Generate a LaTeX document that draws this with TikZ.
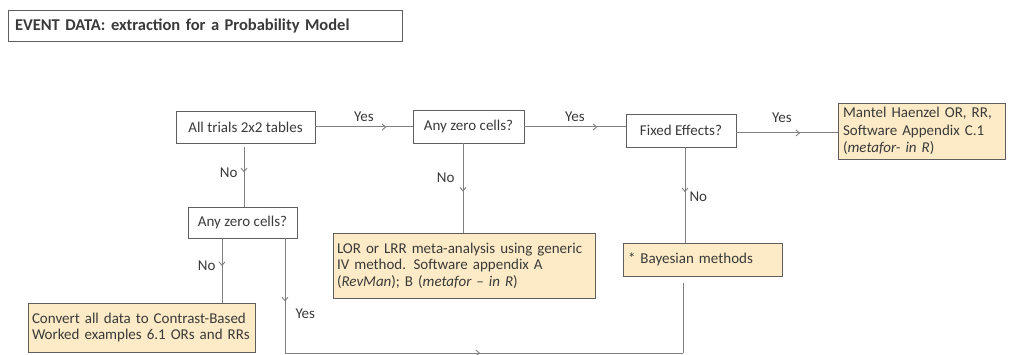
\documentclass[tikz,border=0pt]{standalone}
\usepackage{fontspec}
\setmainfont{Carlito}
\usetikzlibrary{arrows.meta, positioning, decorations.markings}

\definecolor{boxfill}{HTML}{FCEBC6}
\definecolor{lineclr}{HTML}{808080}
\definecolor{edgeclr}{HTML}{5E5E5E}
\definecolor{txtclr}{HTML}{3A3A3A}

\tikzset{
  qbox/.style={draw=edgeclr, fill=white, text=txtclr, inner sep=0pt, line width=0.9pt},
  rbox/.style={draw=edgeclr, fill=boxfill, text=txtclr, inner sep=0pt, line width=0.9pt},
  flow/.style={draw=lineclr, line width=1pt},
  tip/.style={postaction={decorate}, decoration={markings,
    mark=at position #1 with {\arrow[lineclr]{Straight Barb[length=3.5pt,width=6pt,line width=0.9pt]}}}},
  lbl/.style={text=txtclr, inner sep=0pt, font=\fontsize{15}{17}\selectfont}
}

\begin{document}
\begin{tikzpicture}[x=1pt,y=-1pt,font=\fontsize{15}{16.5}\selectfont]
\useasboundingbox[fill=white] (0,0) rectangle (1012,355);

% title
\node[qbox, minimum width=394pt, minimum height=31pt, text width=380pt, align=left,
  font=\fontsize{16.5}{18}\selectfont\bfseries] (title) at (205,25.5) {EVENT DATA: extraction for a Probability Model};

% questions
\node[qbox, minimum width=139pt, minimum height=32pt] (trials) at (245.5,127) {All trials 2x2 tables};
\node[qbox, minimum width=111pt, minimum height=33pt] (zeroA) at (468.5,126.5) {Any zero cells?};
\node[qbox, minimum width=110pt, minimum height=33pt] (fixed) at (681,130.5) {Fixed Effects?};
\node[qbox, minimum width=109pt, minimum height=31pt] (zeroB) at (242.5,222.5) {Any zero cells?};

% outcomes
\node[rbox, minimum width=167pt, minimum height=56pt, text width=157pt, align=left,
  font=\fontsize{15}{17.5}\selectfont] (mantel) at (921.5,131)
  {Mantel Haenzel OR, RR,\\ Software Appendix C.1\\ (\textit{metafor- in R})};
\node[rbox, minimum width=262pt, minimum height=65pt, text width=254pt, align=left] (lor) at (464,265.5)
  {LOR or LRR meta-analysis using generic\\ IV method. Software appendix A\\ (\textit{RevMan}); B (\textit{metafor -- in R})};
\node[rbox, minimum width=159pt, minimum height=33pt, text width=149pt, align=left] (bayes) at (702.5,259.5)
  {* Bayesian methods};
\node[rbox, minimum width=227pt, minimum height=49pt, text width=219pt, align=left] (convert) at (141.5,327.5)
  {Convert all data to Contrast-Based\\ Worked examples 6.1 ORs and RRs};

\coordinate (yesdown) at (285,353);
\coordinate (bayesin) at (683,353);

% connectors
\path[flow, tip=0.73] (trials.east) -- (trials.east -| zeroA.west)
  node[lbl, pos=0.5, above=5pt] {Yes};
\path[flow, tip=0.72] (zeroA.east |- 0,127) -- (fixed.west |- 0,127)
  node[lbl, pos=0.5, above=5pt] {Yes};
\path[flow, tip=0.63] (fixed.east |- 0,133) -- (mantel.west |- 0,133)
  node[lbl, pos=0.45, above=10pt] {Yes};
\path[flow, tip=0.42] ([yshift=-4pt]trials.south -| 244,0) -- (zeroB.north -| 244,0)
  node[lbl, pos=0.42, left=6pt] {No};
\path[flow, tip=0.54] (zeroA.south -| 463,0) -- (lor.north -| 463,0)
  node[lbl, pos=0.39, left=8pt] {No};
\path[flow, tip=0.47] (fixed.south -| 685,0) -- (bayes.north -| 685,0)
  node[lbl, pos=0.52, right=4pt] {No};
\path[flow, tip=0.43] (zeroB.south -| 222,0) -- (convert.north -| 222,0)
  node[lbl, pos=0.43, left=6pt] {No};
\path[flow, tip=0.55] (zeroB.south -| yesdown) -- (yesdown)
  node[lbl, pos=0.66, right=10pt] {Yes};
\path[flow, tip=0.49] (yesdown) -- (bayesin);
\path[flow] (bayesin) -- ([yshift=-7pt]bayes.south -| bayesin);
\end{tikzpicture}
\end{document}
